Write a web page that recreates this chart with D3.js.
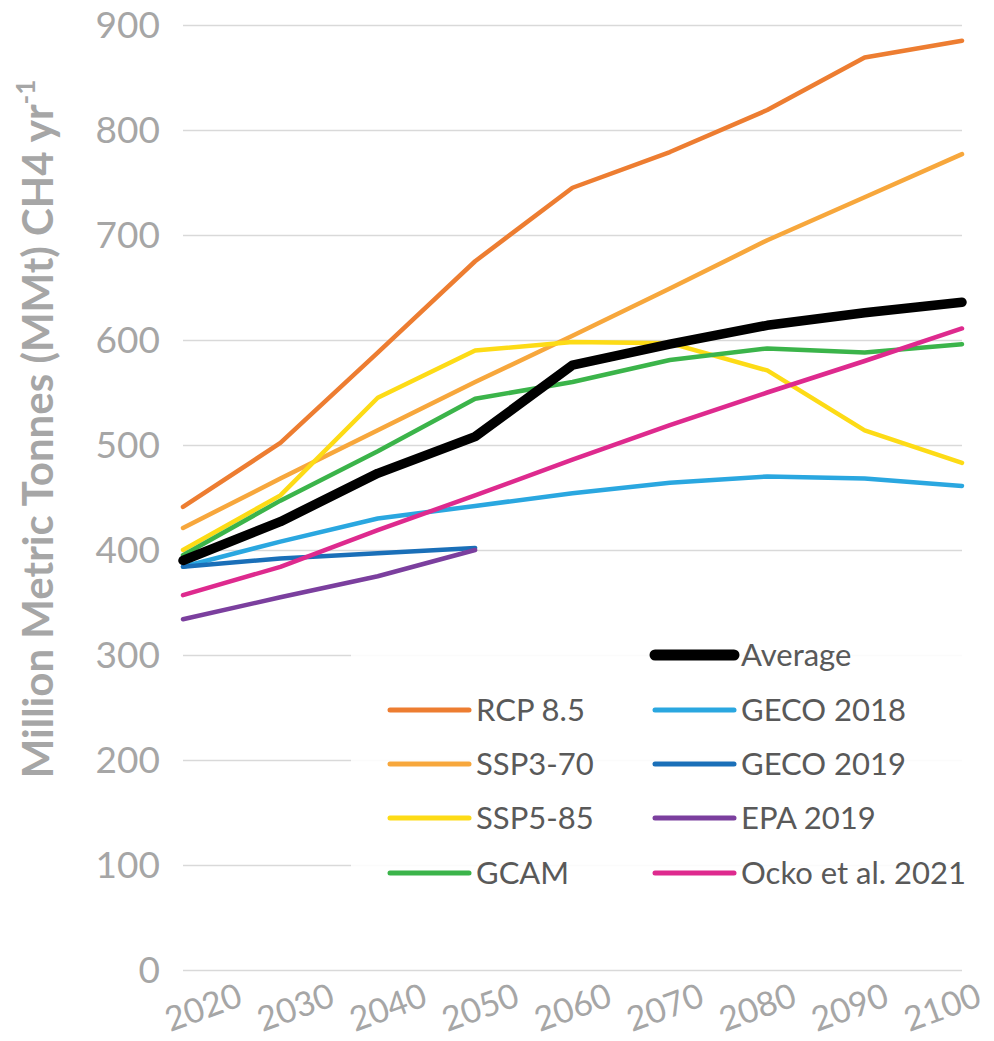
<!DOCTYPE html>
<html>
<head>
<meta charset="utf-8">
<script src="https://cdn.jsdelivr.net/npm/d3@7"></script>
<style>
  html, body { margin: 0; padding: 0; background: #fff; }
  svg { display: block; font-family: Lato, "Open Sans", sans-serif; }
</style>
</head>
<body>
<div id="chart"></div>
<script>
// data (MMt CH4 per year)
const years = [2020, 2030, 2040, 2050, 2060, 2070, 2080, 2090, 2100];
const yTicks = [0, 100, 200, 300, 400, 500, 600, 700, 800, 900];

const rcp85    = [441, 502, 588, 675, 745, 779, 819, 869, 885];
const ssp370   = [421, 468, 514, 560, 604, 649, 695, 736, 777];
const ssp585   = [400, 452, 545, 590, 598, 597, 571, 514, 483];
const gcam     = [395, 447, 494, 544, 560, 581, 592, 588, 596];
const geco2018 = [384, 408, 430, 442, 454, 464, 470, 468, 461];
const geco2019 = [384, 392, 397, 402];
const epa2019  = [334, 355, 375, 400];
const ocko     = [357, 384, 419, 452, 486, 519, 550, 580, 611];
const average  = [390, 427, 473, 508, 576, 596, 614, 626, 636];

const series = [
  {name: "RCP 8.5", values: rcp85, color: "#ED7D31"},
  {name: "SSP3-70", values: ssp370, color: "#F7A73C"},
  {name: "SSP5-85", values: ssp585, color: "#FDDB16"},
  {name: "GCAM", values: gcam, color: "#3BB44A"},
  {name: "GECO 2018", values: geco2018, color: "#2AA7E0"},
  {name: "GECO 2019", values: geco2019, color: "#1A6FB8"},
  {name: "EPA 2019", values: epa2019, color: "#7B3F9E"},
  {name: "Ocko et al. 2021", values: ocko, color: "#DE2A8E"},
  {name: "Average", values: average, color: "#000000"}
];

const W = 994, H = 1041;
const svg = d3.select("#chart").append("svg").attr("width", W).attr("height", H);

const x = d3.scalePoint().domain(years).range([183, 962]);
// excel squeezes the rotated labels a bit inward
const xLab = d3.scalePoint().domain(years).range([203, 942]);
const y = d3.scaleLinear().domain([0, 900]).range([970, 25]);

// gridlines
svg.append("g")
  .attr("transform", "translate(183,0)")
  .call(d3.axisLeft(y).tickValues(yTicks).tickSize(-(962 - 183)).tickFormat(""))
  .call(g => g.select(".domain").remove())
  .call(g => g.selectAll("line").attr("stroke", "#D9D9D9").attr("stroke-width", 1.5));

// y tick labels
svg.append("g").selectAll("text")
  .data(yTicks).enter().append("text")
  .attr("x", 160)
  .attr("y", d => y(d))
  .attr("dy", "0.36em")
  .attr("text-anchor", "end")
  .attr("fill", "#A6A6A6")
  .attr("font-size", 37)
  .text(d => d);

// x tick labels, tilted
svg.append("g").selectAll("text")
  .data(years).enter().append("text")
  .attr("transform", d => "translate(" + xLab(d) + ",1007) rotate(-20)")
  .attr("dy", "0.36em")
  .attr("text-anchor", "middle")
  .attr("fill", "#A6A6A6")
  .attr("font-size", 34)
  .text(d => d);

// y axis title
const title = svg.append("text")
  .attr("transform", "translate(53,429) rotate(-90)")
  .attr("text-anchor", "middle")
  .attr("fill", "#A6A6A6")
  .attr("font-weight", "bold")
  .attr("font-size", 42);
title.append("tspan").text("Million Metric Tonnes (MMt) CH4 yr");
title.append("tspan").attr("font-size", 26).attr("dy", -18).text("-1");

// legend sits on a white box that hides most of the gridlines
svg.append("rect")
  .attr("x", 351).attr("y", 628)
  .attr("width", 612).attr("height", 272)
  .attr("fill", "#fff").attr("fill-opacity", 0.88);

// lines
const line = d3.line()
  .x((d, i) => x(years[i]))
  .y(d => y(d));

svg.append("g").selectAll("path")
  .data(series).enter().append("path")
  .attr("d", d => line(d.values))
  .attr("fill", "none")
  .attr("stroke", d => d.color)
  .attr("stroke-width", d => d.name == "Average" ? 9.5 : 4.5)
  .attr("stroke-linejoin", "round")
  .attr("stroke-linecap", "round");

// legend: average on its own at top right, then two columns
const legendPos = {
  "Average": [655, 655],
  "RCP 8.5": [390, 710], "SSP3-70": [390, 764], "SSP5-85": [390, 818], "GCAM": [390, 873],
  "GECO 2018": [655, 710], "GECO 2019": [655, 764], "EPA 2019": [655, 818], "Ocko et al. 2021": [655, 873]
};

const leg = svg.append("g").selectAll("g")
  .data(series).enter().append("g")
  .attr("transform", d => "translate(" + legendPos[d.name][0] + "," + legendPos[d.name][1] + ")");

leg.append("line")
  .attr("x1", 0).attr("x2", 79)
  .attr("stroke", d => d.color)
  .attr("stroke-width", d => d.name == "Average" ? 11 : 5)
  .attr("stroke-linecap", "round");

leg.append("text")
  .attr("x", 86)
  .attr("dy", "0.36em")
  .attr("fill", "#595959")
  .attr("font-size", 31)
  .text(d => d.name);
</script>
</body>
</html>
